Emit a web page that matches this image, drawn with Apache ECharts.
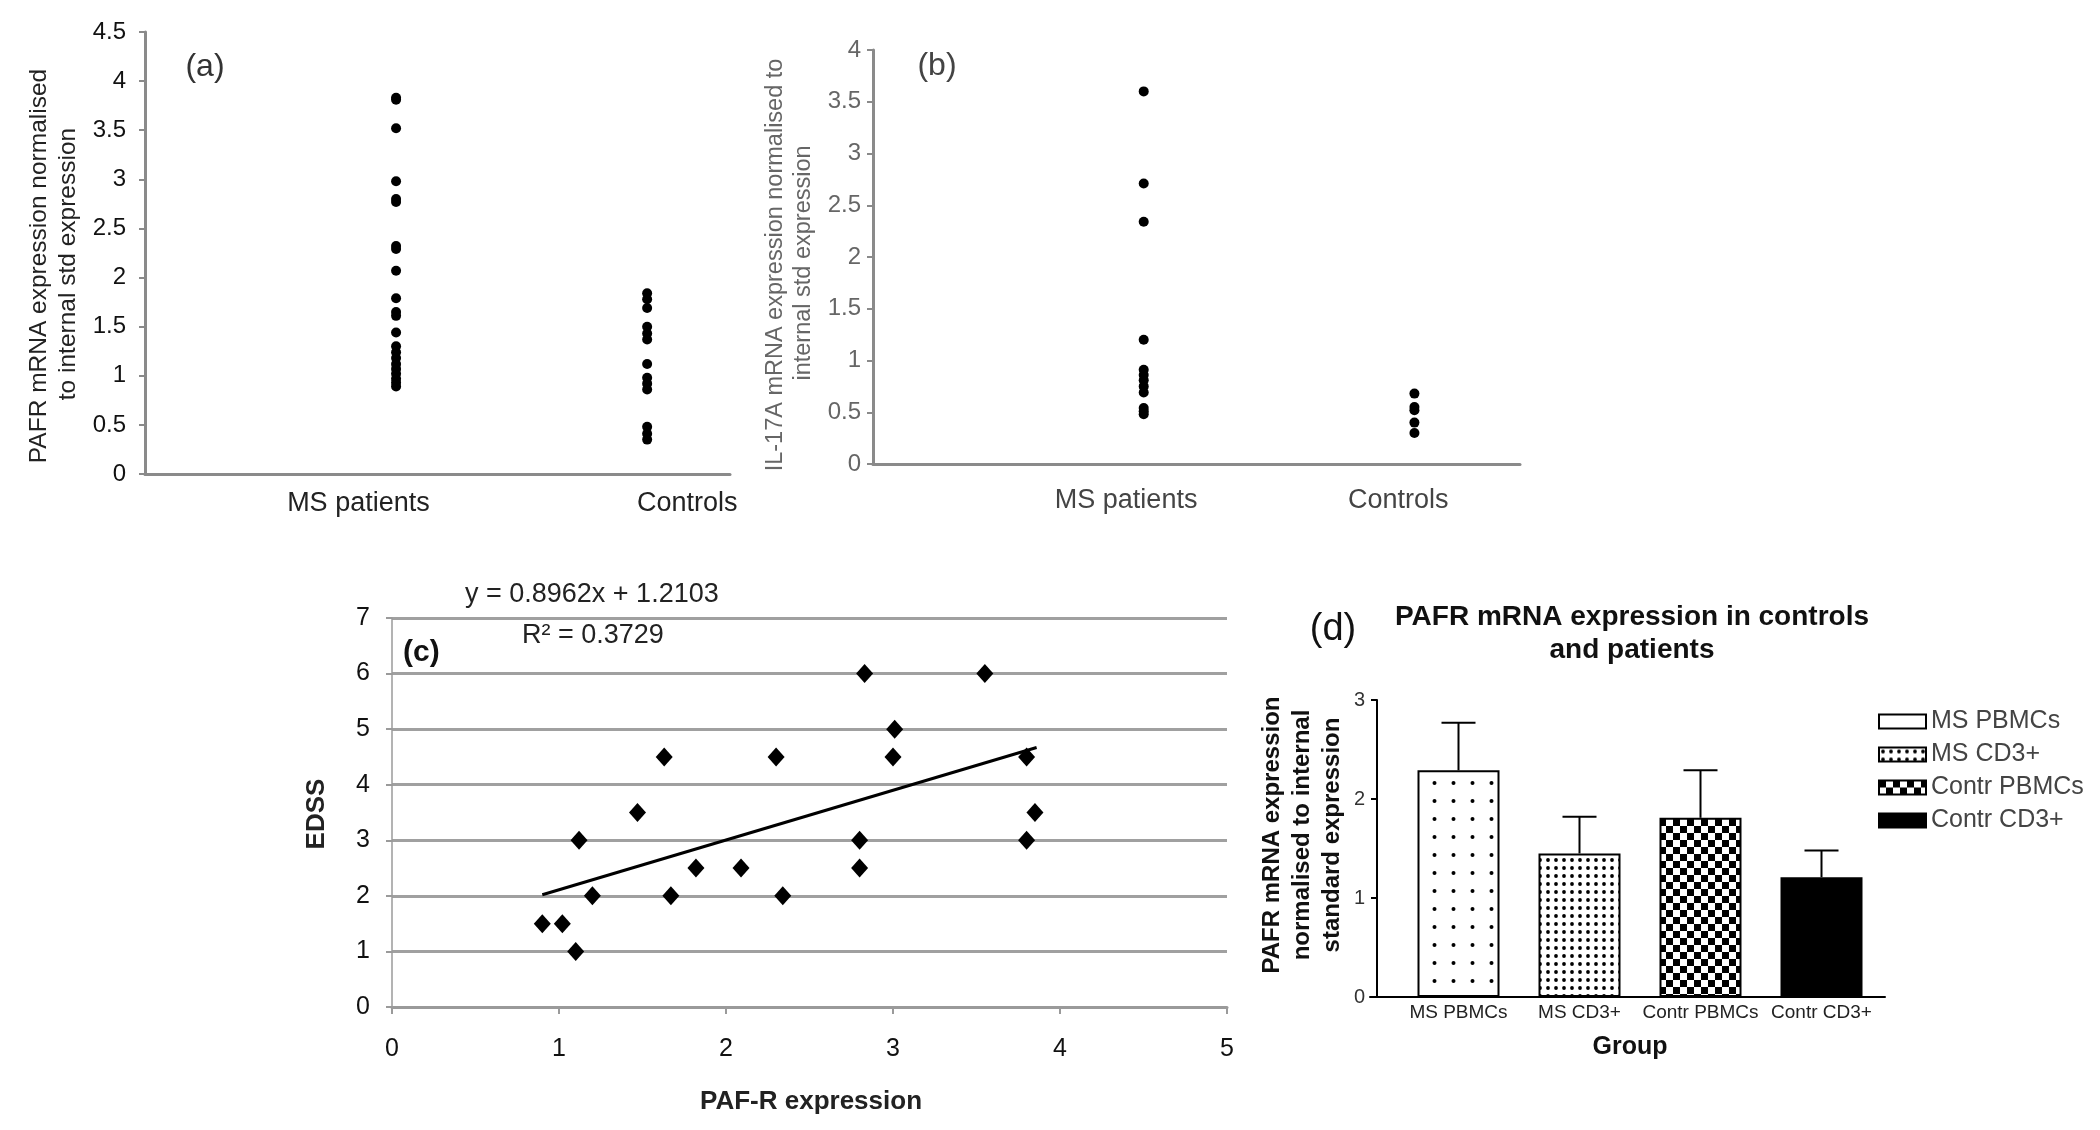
<!DOCTYPE html>
<html>
<head>
<meta charset="utf-8">
<script src="https://cdn.jsdelivr.net/npm/echarts@6/dist/echarts.min.js"></script>
<style>
html,body{margin:0;padding:0;background:#fff;}
#c{width:2100px;height:1130px;}
</style>
</head>
<body>
<div id="c"></div>
<script>
// ---------- data ----------
const groupsAB = ['MS patients', 'Controls'];
const pafrMS = [3.83, 3.81, 3.52, 2.98, 2.80, 2.77, 2.32, 2.29, 2.07, 1.79, 1.65, 1.61, 1.44, 1.30, 1.24, 1.18, 1.12, 1.07, 1.02, 0.97, 0.93, 0.89];
const pafrCtrl = [1.84, 1.78, 1.69, 1.50, 1.43, 1.37, 1.12, 0.98, 0.92, 0.86, 0.48, 0.41, 0.35];
const il17MS = [3.60, 2.71, 2.34, 1.20, 0.91, 0.86, 0.81, 0.75, 0.69, 0.54, 0.51, 0.48];
const il17Ctrl = [0.68, 0.55, 0.52, 0.40, 0.30];
const pafrExpr = [0.90, 1.02, 1.10, 1.12, 1.20, 1.47, 1.63, 1.67, 1.82, 2.09, 2.30, 2.34, 2.80, 2.80, 2.83, 3.00, 3.01, 3.55, 3.80, 3.80, 3.85];
const edss     = [1.5, 1.5, 1.0, 3.0, 2.0, 3.5, 4.5, 2.0, 2.5, 2.5, 4.5, 2.0, 2.5, 3.0, 6.0, 4.5, 5.0, 6.0, 4.5, 3.0, 3.5];
const trendX = [0.90, 3.86];
const trendY = [2.02, 4.67];
const barGroups = ['MS PBMCs', 'MS CD3+', 'Contr PBMCs', 'Contr CD3+'];
const barMeans = [2.29, 1.45, 1.81, 1.21];
const barErrTop = [2.77, 1.82, 2.29, 1.48];

// ---------- patterns ----------
function mk(w, h, draw) { const c = document.createElement('canvas'); c.width = w; c.height = h; const g = c.getContext('2d'); g.fillStyle = '#fff'; g.fillRect(0, 0, w, h); g.fillStyle = '#000'; draw(g); return c; }
const patSparse = mk(19, 18, g => { g.beginPath(); g.arc(9.5, 9, 2.0, 0, Math.PI * 2); g.fill(); });
const patDense = mk(8, 8, g => { g.beginPath(); g.arc(4, 4, 1.9, 0, Math.PI * 2); g.fill(); });
const patCheck = mk(14, 14, g => { g.fillRect(0, 0, 7, 7); g.fillRect(7, 7, 7, 7); });
const barFills = [
  { image: patSparse, repeat: 'repeat' },
  { image: patDense, repeat: 'repeat' },
  { image: patCheck, repeat: 'repeat' },
  '#000'
];

const FONT = '"Liberation Sans", Arial, sans-serif';
const chart = echarts.init(document.getElementById('c'));

function txt(x, y, text, font, fill, opts) {
  return Object.assign({
    type: 'text', x: x, y: y,
    style: { text: text, font: font + ' ' + FONT, fill: fill || '#222', textAlign: 'center', textVerticalAlign: 'middle' }
  }, opts || {});
}
const ROT = Math.PI / 2;

const grayAxis = { show: true, lineStyle: { color: '#8a8a8a', width: 3 } };
const dotStyle = { color: '#000', opacity: 1 };

const option = {
  backgroundColor: '#fff',
  animation: false,
  textStyle: { fontFamily: FONT },
  grid: [
    { left: 145, top: 32, width: 585, height: 442 },
    { left: 873, top: 50, width: 647, height: 414 },
    { left: 392, top: 618, width: 835, height: 389 },
    { left: 1398, top: 700, width: 484, height: 297 },
    { left: 1370, top: 700, width: 515, height: 297 }
  ],
  xAxis: [
    { gridIndex: 0, type: 'value', min: 0, max: 2.33, splitLine: { show: false }, axisLine: grayAxis, axisTick: { show: false },
      axisLabel: { customValues: [0.85, 2.16], formatter: v => (v < 1.5 ? groupsAB[0] : groupsAB[1]), fontSize: 27, color: '#222', margin: 16 } },
    { gridIndex: 1, type: 'value', min: 0, max: 2.39, splitLine: { show: false }, axisLine: grayAxis, axisTick: { show: false },
      axisLabel: { customValues: [0.935, 1.94], formatter: v => (v < 1.5 ? groupsAB[0] : groupsAB[1]), fontSize: 27, color: '#444', margin: 23 } },
    { gridIndex: 2, type: 'value', min: 0, max: 5, interval: 1, splitLine: { show: false },
      axisLine: { show: true, lineStyle: { color: '#9a9a9a', width: 3 } },
      axisTick: { show: true, length: 7, lineStyle: { color: '#9a9a9a', width: 2 } },
      axisLabel: { fontSize: 25, color: '#111', margin: 30 } },
    { gridIndex: 3, type: 'category', data: barGroups, axisLine: { show: false }, axisTick: { show: false },
      axisLabel: { interval: 0, fontSize: 19, color: '#222', margin: 6 } },
    { gridIndex: 4, type: 'value', min: 0, max: 1, axisLine: { show: true, lineStyle: { color: '#000', width: 2 } },
      axisTick: { show: false }, axisLabel: { show: false }, splitLine: { show: false } }
  ],
  yAxis: [
    { gridIndex: 0, type: 'value', min: 0, max: 4.5, interval: 0.5, splitLine: { show: false }, axisLine: grayAxis,
      axisTick: { show: true, length: 6, lineStyle: { color: '#8a8a8a', width: 2 } },
      axisLabel: { fontSize: 24, color: '#111', margin: 19 } },
    { gridIndex: 1, type: 'value', min: 0, max: 4, interval: 0.5, splitLine: { show: false }, axisLine: grayAxis,
      axisTick: { show: true, length: 6, lineStyle: { color: '#8a8a8a', width: 2 } },
      axisLabel: { fontSize: 24, color: '#666', margin: 12 } },
    { gridIndex: 2, type: 'value', min: 0, max: 7, interval: 1,
      splitLine: { show: true, lineStyle: { color: '#a0a0a0', width: 3 } },
      axisLine: { show: true, lineStyle: { color: '#9a9a9a', width: 1.5 } },
      axisTick: { show: true, length: 6, lineStyle: { color: '#9a9a9a', width: 2 } },
      axisLabel: { fontSize: 25, color: '#111', margin: 22 } },
    { gridIndex: 3, type: 'value', min: 0, max: 3, interval: 1, offset: 21, splitLine: { show: false },
      axisLine: { show: true, lineStyle: { color: '#000', width: 2 } },
      axisTick: { show: true, length: 6, lineStyle: { color: '#000', width: 2 } },
      axisLabel: { fontSize: 20, color: '#333', margin: 12 } },
    { gridIndex: 4, type: 'value', min: 0, max: 3, show: false }
  ],
  legend: {
    data: barGroups.map((g, i) => (i === 0 ? { name: g, itemStyle: { color: '#fff' } } : g)),
    orient: 'vertical', left: 1873, top: 704, itemWidth: 47, itemHeight: 14, itemGap: 8,
    icon: 'rect', selectedMode: false,
    textStyle: { fontSize: 25, lineHeight: 25, color: '#444', fontFamily: FONT }
  },
  series: [
    { type: 'scatter', xAxisIndex: 0, yAxisIndex: 0, symbolSize: 10, itemStyle: dotStyle,
      data: pafrMS.map(v => [1, v]) },
    { type: 'scatter', xAxisIndex: 0, yAxisIndex: 0, symbolSize: 10, itemStyle: dotStyle,
      data: pafrCtrl.map(v => [2, v]) },
    { type: 'scatter', xAxisIndex: 1, yAxisIndex: 1, symbolSize: 10, itemStyle: dotStyle,
      data: il17MS.map(v => [1, v]) },
    { type: 'scatter', xAxisIndex: 1, yAxisIndex: 1, symbolSize: 10, itemStyle: dotStyle,
      data: il17Ctrl.map(v => [2, v]) },
    { type: 'scatter', xAxisIndex: 2, yAxisIndex: 2, symbol: 'diamond', symbolSize: [17, 19], itemStyle: dotStyle,
      data: pafrExpr.map((x, i) => [x, edss[i]]), z: 4 },
    { type: 'line', xAxisIndex: 2, yAxisIndex: 2, showSymbol: false, lineStyle: { color: '#000', width: 3 },
      data: trendX.map((x, i) => [x, trendY[i]]), z: 3 },
    ...barGroups.map((g, k) => ({
      type: 'bar', name: g, xAxisIndex: 3, yAxisIndex: 3, barWidth: 82, barGap: '-100%',
      itemStyle: { color: barFills[k], borderColor: '#000', borderWidth: 2 },
      data: barMeans.map((v, i) => (i === k ? v : '-'))
    })),
    { type: 'custom', xAxisIndex: 3, yAxisIndex: 3, z: 5,
      data: barGroups.map((g, i) => [i, barMeans[i], barErrTop[i]]),
      renderItem: function (params, api) {
        const b = api.coord([api.value(0), api.value(1)]);
        const t = api.coord([api.value(0), api.value(2)]);
        return { type: 'group', children: [
          { type: 'line', shape: { x1: b[0], y1: b[1], x2: b[0], y2: t[1] }, style: { stroke: '#000', lineWidth: 2 } },
          { type: 'line', shape: { x1: b[0] - 17, y1: t[1], x2: b[0] + 17, y2: t[1] }, style: { stroke: '#000', lineWidth: 2 } }
        ] };
      } }
  ],
  graphic: [
    // (a)
    txt(205, 67, '(a)', '32px', '#333'),
    txt(39, 266, 'PAFR mRNA expression normalised', '24.5px', '#222', { rotation: ROT }),
    txt(68, 264, 'to internal std expression', '24.5px', '#222', { rotation: ROT }),
    // (b)
    txt(937, 66, '(b)', '32px', '#444'),
    txt(776, 265, 'IL-17A mRNA expression normalised to', '23.5px', '#666', { rotation: ROT }),
    txt(804, 263, 'internal std expression', '23.5px', '#666', { rotation: ROT }),
    // (c)
    { type: 'text', x: 465, y: 595, style: { text: 'y = 0.8962x + 1.2103', font: '27px ' + FONT, fill: '#222', textAlign: 'left', textVerticalAlign: 'middle' } },
    { type: 'text', x: 522, y: 636, style: { text: 'R² = 0.3729', font: '27px ' + FONT, fill: '#222', textAlign: 'left', textVerticalAlign: 'middle' } },
    { type: 'text', x: 403, y: 653, style: { text: '(c)', font: 'bold 30px ' + FONT, fill: '#111', textAlign: 'left', textVerticalAlign: 'middle' } },
    txt(317, 814, 'EDSS', 'bold 26px', '#222', { rotation: ROT }),
    txt(811, 1102, 'PAF-R expression', 'bold 26px', '#222'),
    // (d)
    txt(1632, 617, 'PAFR mRNA expression in controls', 'bold 28px', '#111'),
    txt(1632, 650, 'and patients', 'bold 28px', '#111'),
    txt(1333, 630, '(d)', '38px', '#111'),
    txt(1272, 835, 'PAFR mRNA expression', 'bold 24px', '#111', { rotation: ROT }),
    txt(1302, 835, 'normalised to internal', 'bold 24px', '#111', { rotation: ROT }),
    txt(1332, 835, 'standard expression', 'bold 24px', '#111', { rotation: ROT }),
    txt(1630, 1047, 'Group', 'bold 25px', '#111')
  ]
};
chart.setOption(option);
</script>
</body>
</html>
